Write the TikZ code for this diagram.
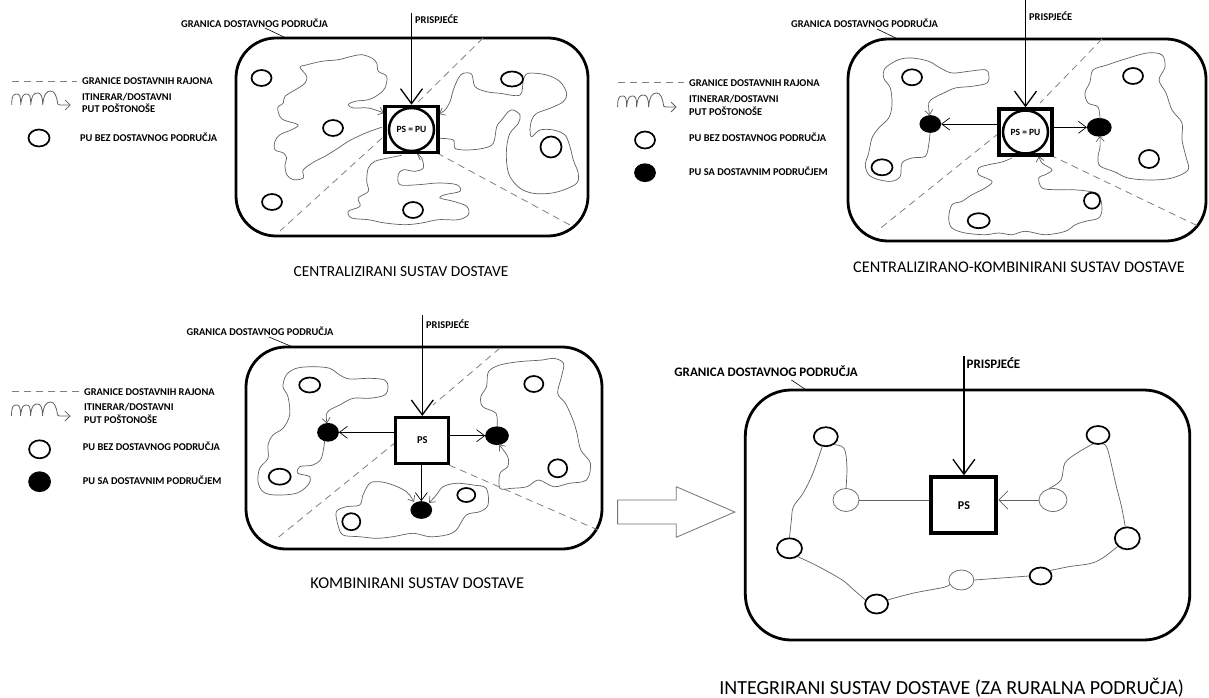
\documentclass[tikz,border=0pt]{standalone}
\usepackage{fontspec}
\setmainfont{Carlito}
\usetikzlibrary{arrows.meta,shapes.geometric}
\tikzset{
  bnd/.style={line width=2.8pt, rounded corners=40pt},
  bndbig/.style={line width=2.8pt, rounded corners=46pt},
  itin/.style={draw=black!62, line width=0.7pt},
  ita/.style={-{Straight Barb[length=5pt,width=8pt,line width=0.7pt]}},
  itb/.style={{Straight Barb[length=5pt,width=8pt,line width=0.7pt]}-{Straight Barb[length=5pt,width=8pt,line width=0.7pt]}},
  rajon/.style={draw=black!50, line width=0.8pt, dash pattern=on 7pt off 5pt},
  inarr/.style={line width=1.3pt, -{Straight Barb[length=15pt,width=22pt,line width=1.3pt]}},
  sarr/.style={line width=0.8pt, -{Straight Barb[length=8pt,width=12pt,line width=0.7pt]}},
  lead/.style={line width=0.6pt},
  psbox/.style={draw, line width=3.5pt, minimum width=53pt, minimum height=46pt, inner sep=0pt, font=\fontsize{9.5}{10}\selectfont\bfseries},
  inell/.style={ellipse, draw, line width=2.5pt, minimum width=45pt, minimum height=43pt, inner sep=0pt},
  pu/.style={ellipse, draw, line width=1.7pt, minimum width=20pt, minimum height=16pt, inner sep=0pt},
  puf/.style={pu, fill=black},
  puthin/.style={ellipse, draw=black!55, line width=0.8pt, inner sep=0pt},
  lbl/.style={anchor=west, inner sep=0pt, font=\fontsize{10.4}{11}\selectfont\bfseries},
  lblbig/.style={anchor=west, inner sep=0pt, font=\fontsize{13}{14}\selectfont\bfseries},
  ttl/.style={inner sep=0pt, font=\fontsize{16}{18}\selectfont},
  ttlbig/.style={inner sep=0pt, font=\fontsize{20}{22}\selectfont},
  squig/.pic={\draw[itin, line width=0.8pt, -{Straight Barb[length=5pt,width=10pt,line width=0.8pt]}]
    (0,1) .. controls (0,-9) and (2,-10) .. (5,-10) .. controls (8,-10) and (9,-8) .. (9,1)
    .. controls (10,-9) and (12,-10) .. (15,-10) .. controls (18,-10) and (19,-8) .. (19,1)
    .. controls (20,-9) and (22,-11) .. (26,-11) .. controls (29,-11) and (31,-8) .. (31,1)
    .. controls (32,-10) and (35,-13) .. (39,-13) .. controls (43,-13) and (45,-8) .. (46,0)
    -- (48,1) -- (59,1);}
}
\begin{document}
\begin{tikzpicture}[x=1pt,y=-1pt]
\useasboundingbox (0,0) rectangle (1209,698);
\fill[white] (0,0) rectangle (1209,698);

% ================= PANEL 1 =================
\draw[rajon] (11.5,81) -- (77,81);
\node[lbl] (l1a) at (82,81) {GRANICE DOSTAVNIH RAJONA};
\pic at (11.7,104) {squig};
\node[lbl] (l1b) at (82,97) {ITINERAR/DOSTAVNI};
\node[lbl] (l1c) at (82,108.5) {PUT POŠTONOŠE};
\node[pu, minimum width=21pt, minimum height=17pt] (l1o) at (39,138) {};
\node[lbl] (l1d) at (80,137.5) {PU BEZ DOSTAVNOG PODRUČJA};
\draw[bnd] (236,38) rectangle (588,236);
\node[lbl] (g1) at (181,23) {GRANICA DOSTAVNOG PODRUČJA};
\coordinate (g1a) at (265,28); \coordinate (g1b) at (287,38.5);
\draw[lead] (g1a) -- (g1b);
\coordinate (d1a) at (483,38); \coordinate (d1b) at (414,106);
\coordinate (d1c) at (382,138); \coordinate (d1d) at (280,231);
\coordinate (d1e) at (437,153); \coordinate (d1f) at (570,225);
\draw[rajon] (d1a) -- (d1b); \draw[rajon] (d1c) -- (d1d); \draw[rajon] (d1e) -- (d1f);
\draw[itin, ita] plot[smooth, tension=0.55] coordinates {(381.7,127.3) (370,131.3) (358.3,136.3) (348.3,141.3) (338.3,148) (325,156.3) (315,161.3) (303.3,169.7) (303.3,178) (293.3,179.7) (286.7,174.7) (285,164.7) (286.7,158) (283.3,153) (275,149.7) (275,141.3) (280,134.7) (291.7,129.7) (298,124.7) (282,119) (277.7,108) (283.3,103) (285,96.3) (298.3,88) (305,83) (306.7,76.3) (300,67.3) (305,65.3) (321.7,61.3) (338.3,59.7) (351.7,56.3) (361.7,54.7) (371.7,58) (376.7,63) (378.3,71.3) (386.7,76.3) (385,88) (378.3,94.7) (368.3,99.7) (355,101.3) (348.3,104.7) (353.3,108) (368.3,108) (384,113)};
\draw[itin, ita] plot[smooth, tension=0.55] coordinates {(401.7,155.3) (388.3,158) (375,161.3) (368.3,168) (366.7,181.3) (368.3,191.3) (358.3,198) (360,206.3) (348.3,211.3) (351.7,218) (368.3,219.7) (385,223) (405,224.7) (421.7,223) (438.3,219.7) (458.3,219.7) (468.3,214.7) (466.7,206.3) (453.3,201.3) (440,198) (445,194.7) (460,191.3) (456.7,184.7) (438.3,183) (418.3,184.7) (400,184.7) (398.3,174.7) (403.3,169.7) (415,171.3) (423.3,168) (421.7,158) (417,154)};
\draw[itin, ita] plot[smooth, tension=0.55] coordinates {(439,138.3) (453.3,140) (455,148.3) (466.7,150) (483.3,148.3) (493.3,143.3) (496.7,126.7) (501.7,120) (508.3,111.7) (513.3,110) (520,115) (518.3,123.3) (510,133.3) (506.7,146.7) (506.7,163.3) (510,176.7) (520,188.3) (533.3,193.3) (550,193.3) (563.3,190) (576.7,183.3) (578.3,173.3) (573.3,160) (570,146.7) (565,135) (553.3,130) (540,130) (531.7,136.7) (530,130) (531.7,120) (536.7,113.3) (550,108.3) (563.3,101.7) (566.7,93.3) (560,81.7) (546.7,75) (528.3,73.3) (523.3,80) (520,95) (500,93.3) (486.7,91.7) (475,86.7) (471.7,74.3) (463.3,73.3) (458.3,78.3) (453.3,90) (450,101.7) (445,110) (439,114)};
\node[pu] (o1a) at (261.5,78) {};
\node[pu] (o1b) at (333,128) {};
\node[pu] (o1c) at (272,202) {};
\node[pu] (o1d) at (413,210) {};
\node[pu, minimum width=22pt, minimum height=15pt] (o1e) at (512,79) {};
\node[pu, minimum width=21pt, minimum height=21pt] (o1f) at (551,147) {};
\node[psbox] (b1) at (411.5,129.5) {PS = PU};
\node[inell] (e1) at (b1) {};
\coordinate (in1) at (411.5,13);
\draw[inarr] (in1) -- (b1.north);
\node[lbl] (pr1) at (415,19) {PRISPJEĆE};
\node[ttl, font=\fontsize{15.4}{18}\selectfont] (t1) at (401,271.7) {CENTRALIZIRANI SUSTAV DOSTAVE};

% ================= PANEL 2 =================
\draw[rajon] (617.6,82.7) -- (684,82.7);
\node[lbl] (l2a) at (689,82.7) {GRANICE DOSTAVNIH RAJONA};
\pic at (617.6,106) {squig};
\node[lbl] (l2b) at (689,99.3) {ITINERAR/DOSTAVNI};
\node[lbl] (l2c) at (689,111.7) {PUT POŠTONOŠE};
\node[pu, minimum width=20pt, minimum height=17pt] (l2o) at (645,140) {};
\node[lbl] (l2d) at (689,137.7) {PU BEZ DOSTAVNOG PODRUČJA};
\node[puf, minimum width=20pt, minimum height=17pt] (l2f) at (645,172.7) {};
\node[lbl] (l2e) at (689,171.7) {PU SA DOSTAVNIM PODRUČJEM};
\draw[bnd] (848,39) rectangle (1206,241);
\node[lbl] (g2) at (791,23) {GRANICA DOSTAVNOG PODRUČJA};
\coordinate (g2a) at (877,29); \coordinate (g2b) at (899,39.5);
\draw[lead] (g2a) -- (g2b);
\coordinate (d2a) at (1102,39); \coordinate (d2b) at (1040,103);
\coordinate (d2c) at (999,133); \coordinate (d2d) at (877,231);
\coordinate (d2e) at (1050,155); \coordinate (d2f) at (1200,227);
\draw[rajon] (d2a) -- (d2b); \draw[rajon] (d2c) -- (d2d); \draw[rajon] (d2e) -- (d2f);
\node[puf] (f2l) at (930.3,124) {};
\node[puf, minimum width=23pt, minimum height=17pt] (f2r) at (1099.3,127.3) {};
\draw[itin, ita] plot[smooth, tension=0.55] coordinates {(930,133) (928.7,144.7) (925.3,156.3) (912,158) (902,163) (900.3,176.3) (892,181.3) (878.7,179.7) (868.7,174.7) (865.3,164.7) (868.7,153) (872,138) (878.7,128) (888.7,118) (892,104.7) (890.3,88) (883.7,78) (885.3,68) (898.7,59.7) (912,58) (928.7,61.3) (940.3,68) (952,73) (968.7,71.3) (985.3,69.7) (988.7,74.7) (987,83) (972,86.3) (955.3,88) (943.7,93) (933.7,98) (928.7,103) (929.5,115.5)};
\draw[itin, ita] plot[smooth, tension=0.55] coordinates {(1100,119) (1098,107) (1088,103) (1085,93) (1090,82) (1093,70) (1107,65) (1122,60) (1147,53) (1162,55) (1165,67) (1159,80) (1166,93) (1172,110) (1182,123) (1182,140) (1186,157) (1188,170) (1172,178) (1150,180) (1128,178) (1115,172) (1100,166) (1098,157) (1100,147) (1100,136)};
\draw[itin, ita] plot[smooth, tension=0.55] coordinates {(1012,158) (1002,162) (988.7,164.7) (978.7,168) (978.7,174.7) (992,181.3) (985.3,188) (972,194.7) (962,201.3) (952,204.7) (948.7,218) (952,228) (965.3,233) (985.3,234.7) (998.7,233) (1012,234.7) (1025.3,231.3) (1045.3,234.7) (1065.3,231.3) (1075.3,224.7) (1085.3,221.3) (1098.7,218) (1102,208) (1098.7,194.7) (1088.7,191.3) (1072,189.7) (1055.3,189.7) (1042,188) (1038.7,178) (1045.3,174.7) (1052,169.7) (1042,163) (1039,156)};
\node[pu] (o2a) at (912,77.3) {};
\node[pu, minimum width=21pt] (o2b) at (882,167.3) {};
\node[pu, minimum width=22pt, minimum height=15pt] (o2c) at (978.7,220.7) {};
\node[pu, minimum width=16pt, minimum height=16pt] (o2d) at (1092,200.7) {};
\node[pu] (o2e) at (1133,76) {};
\node[pu, minimum width=20pt, minimum height=18pt] (o2f) at (1149,159) {};
\node[psbox] (b2) at (1025.5,132) {PS = PU};
\node[inell] (e2) at (b2) {};
\draw[sarr] (b2.west |- f2l.east) -- (f2l.east);
\draw[sarr] (b2.east |- f2r.west) -- (f2r.west);
\coordinate (in2) at (1025.5,0);
\draw[inarr] (in2) -- (b2.north);
\node[lbl] (pr2) at (1029,16) {PRISPJEĆE};
\node[ttl, font=\fontsize{16.3}{18}\selectfont] (t2) at (1019,267.7) {CENTRALIZIRANO-KOMBINIRANI SUSTAV DOSTAVE};

% ================= PANEL 3 =================
\draw[rajon] (11.5,391.7) -- (79,391.7);
\node[lbl] (l3a) at (84,391.7) {GRANICE DOSTAVNIH RAJONA};
\pic at (11.5,415) {squig};
\node[lbl] (l3b) at (84,407.3) {ITINERAR/DOSTAVNI};
\node[lbl] (l3c) at (84,419) {PUT POŠTONOŠE};
\node[pu, minimum width=21pt, minimum height=18pt] (l3o) at (39.6,449.3) {};
\node[lbl] (l3d) at (82.7,446.7) {PU BEZ DOSTAVNOG PODRUČJA};
\node[puf, minimum width=21pt, minimum height=19pt] (l3f) at (39.6,481.7) {};
\node[lbl] (l3e) at (82.7,480.7) {PU SA DOSTAVNIM PODRUČJEM};
\draw[bnd] (246,347) rectangle (602,549);
\node[lbl] (g3) at (186.5,331) {GRANICA DOSTAVNOG PODRUČJA};
\coordinate (g3a) at (269,337); \coordinate (g3b) at (294,347.5);
\draw[lead] (g3a) -- (g3b);
\coordinate (d3a) at (500,348); \coordinate (d3b) at (433,405);
\coordinate (d3c) at (396,442); \coordinate (d3d) at (275,540);
\coordinate (d3e) at (449,465); \coordinate (d3f) at (598,530);
\draw[rajon] (d3a) -- (d3b); \draw[rajon] (d3c) -- (d3d); \draw[rajon] (d3e) -- (d3f);
\node[puf, minimum width=20pt, minimum height=17pt] (f3l) at (328,432.3) {};
\node[puf, minimum width=22pt, minimum height=17pt] (f3r) at (497,435.7) {};
\node[puf, minimum width=20pt, minimum height=16pt] (f3b) at (421.3,510) {};
\draw[itin, ita] plot[smooth, tension=0.55] coordinates {(324.7,441) (321.3,458.3) (313,465) (299.7,466.7) (298,473.3) (309.7,476.7) (308,485) (296.3,493.3) (274.7,495) (263,491.7) (258,481.7) (259.7,468.3) (268,458.3) (268,445) (273,435) (283,428.3) (289.7,415) (288,396.7) (283,386.7) (286.3,375) (296.3,368.3) (313,366.7) (329.7,368.3) (339.7,375) (349.7,379) (369.7,378.3) (384.7,380) (388,386.7) (384.7,395) (369.7,398.3) (353,398.3) (339.7,405) (329.7,410) (326.3,415) (327,423.5)};
\draw[itin, ita] plot[smooth, tension=0.55] coordinates {(497,427) (496,413.3) (482.7,406.7) (480.8,396.7) (486.5,386.7) (488.5,371.7) (500,365) (519,361.7) (542.3,360) (553.8,358.3) (563.5,363.3) (561.5,376.7) (557.7,393.3) (565.4,403.3) (573,420) (577,433.3) (580.8,450) (590.4,463.3) (586.5,480) (569,483.3) (553.8,486.7) (538.5,480) (527,486.7) (511.5,488.3) (500,488.3) (500,473.3) (507.7,466.7) (507.7,456.7) (499,444.5)};
\draw[itin, itb] plot[smooth, tension=0.55] coordinates {(414,502) (406.3,491.7) (393,485) (379.7,481.7) (369.7,483.3) (363,495) (359.7,505) (346.3,506.7) (336.3,511.7) (338,525) (343,535) (359.7,536.7) (376.3,538.3) (393,536.7) (413,533.3) (429.7,536.7) (446.3,535) (456.3,530) (466.3,515) (479.7,511.7) (488,505) (486.3,488.3) (473,485) (456.3,483.3) (443,486.7) (436.3,495) (429,503)};
\node[pu, minimum width=21pt, minimum height=15pt] (o3a) at (309.7,385) {};
\node[pu, minimum width=22pt, minimum height=16pt] (o3b) at (279.7,476.7) {};
\node[pu, minimum width=18pt, minimum height=17pt] (o3c) at (351.3,521.7) {};
\node[pu, minimum width=18pt, minimum height=14pt] (o3d) at (466.3,495) {};
\node[pu, minimum width=19pt, minimum height=16pt] (o3e) at (533.8,384) {};
\node[pu, minimum width=19pt, minimum height=18pt] (o3f) at (557.7,468.3) {};
\node[psbox, line width=3pt, font=\fontsize{10.5}{11}\selectfont\bfseries] (b3) at (422.3,440.5) {PS};
\draw[sarr] (b3.west |- f3l.east) -- (f3l.east);
\draw[sarr] (b3.east |- f3r.west) -- (f3r.west);
\draw[sarr] (b3.south -| f3b.north) -- (f3b.north);
\coordinate (in3) at (422.3,315);
\draw[inarr] (in3) -- (b3.north);
\node[lbl] (pr3) at (426,324) {PRISPJEĆE};
\node[ttl, font=\fontsize{16.5}{18}\selectfont] (t3) at (417.3,582.7) {KOMBINIRANI SUSTAV DOSTAVE};

% ================= TRANSITION ARROW =================
\draw[draw=black!55, line width=0.8pt] (617.6,500) -- (676.2,500) -- (676.2,486.7) -- (734.8,512) -- (676.2,537.3) -- (676.2,524) -- (617.6,524) -- cycle;

% ================= PANEL 4 =================
\draw[bndbig] (745.3,390) rectangle (1189.8,640);
\node[lblbig] (g4) at (674.2,371) {GRANICA DOSTAVNOG PODRUČJA};
\coordinate (g4a) at (791.4,380); \coordinate (g4b) at (807,390.5);
\draw[lead] (g4a) -- (g4b);
\node[psbox, line width=4pt, minimum width=65pt, minimum height=56pt, font=\fontsize{12}{13}\selectfont\bfseries] (b4) at (963.9,505.3) {PS};
\node[pu, minimum width=24pt, minimum height=19pt] (A) at (825.8,436.7) {};
\node[puthin, minimum width=26pt, minimum height=23pt] (B) at (846,500) {};
\node[pu, minimum width=25pt, minimum height=20pt] (C) at (789.5,548.3) {};
\node[pu, minimum width=23pt, minimum height=19pt] (D) at (876.6,604) {};
\node[puthin, minimum width=25pt, minimum height=20pt] (E) at (961.3,580) {};
\node[pu, minimum width=22pt, minimum height=17pt] (F) at (1040.6,576) {};
\node[pu, minimum width=25pt, minimum height=22pt] (G) at (1127.3,538.3) {};
\node[puthin, minimum width=28pt, minimum height=23pt] (H) at (1053,500) {};
\node[pu, minimum width=23pt, minimum height=18pt] (I) at (1098,435) {};
\draw[itin] (B.east) -- (B.east -| b4.west);
\draw[itin, -{Straight Barb[length=9pt,width=18pt,line width=0.7pt]}] (H.west) -- (H.west -| b4.east);
\draw[itin] plot[smooth, tension=0.6] coordinates {(B.north) (846.9,466.7) (844,448.3) (A.-45)};
\draw[itin] plot[smooth, tension=0.6] coordinates {(A.-110) (812.9,473.3) (803,493.3) (793.4,506.7) (791.4,520) (C.north)};
\draw[itin] plot[smooth, tension=0.6] coordinates {(C.-45) (818.75,566.7) (842.2,580) (853.9,590) (D.160)};
\draw[itin] plot[smooth, tension=0.6] coordinates {(D.20) (912.5,593.3) (943.75,587.3) (E.200)};
\draw[itin] (E.east) -- (F.west);
\draw[itin] plot[smooth, tension=0.6] coordinates {(F.30) (1068.75,566.7) (1096,561.7) (G.220)};
\draw[itin] plot[smooth, tension=0.6] coordinates {(G.100) (1121.5,506.7) (1115.6,483.3) (1107.8,450) (I.-60)};
\draw[itin] plot[smooth, tension=0.6] coordinates {(I.-120) (1076.6,453.3) (1064.8,463.3) (1061,480) (H.110)};
\coordinate (in4) at (963.9,356);
\draw[inarr] (in4) -- (b4.north);
\node[lblbig] (pr4) at (966.4,362.7) {PRISPJEĆE};
\node[ttlbig] (t4) at (951.6,688) {INTEGRIRANI SUSTAV DOSTAVE (ZA RURALNA PODRUČJA)};
\end{tikzpicture}
\end{document}
